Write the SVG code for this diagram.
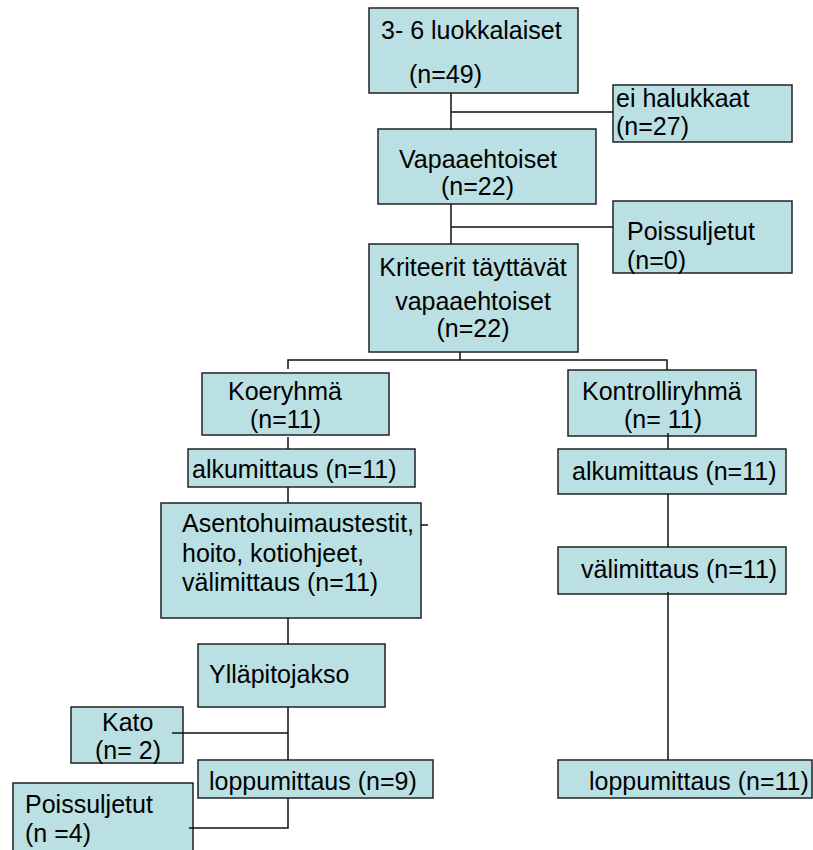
<svg xmlns="http://www.w3.org/2000/svg" width="813" height="850" viewBox="0 0 813 850">
<style>
.box{fill:#BBE0E3;stroke:#222;stroke-width:1.5}
.t{font-family:"Liberation Sans",Arial,sans-serif;font-size:25px;fill:#000}
.c{text-anchor:middle}
.ln{stroke:#111;stroke-width:1.5;fill:none}
</style>
<rect width="813" height="850" fill="#fff"/>
<g id="n1"><rect class="box" x="369" y="8" width="209" height="85"/><text class="t" x="381" y="39">3- 6 luokkalaiset</text><text class="t" x="409" y="83">(n=49)</text></g>
<g id="n2"><rect class="box" x="613" y="85" width="179" height="57"/><text class="t" x="616" y="107">ei halukkaat</text><text class="t" x="616" y="135">(n=27)</text></g>
<g id="n3"><rect class="box" x="378" y="129" width="218" height="75"/><text class="t" x="399" y="168">Vapaaehtoiset</text><text class="t" x="441" y="195">(n=22)</text></g>
<g id="n4"><rect class="box" x="613" y="201" width="179" height="72"/><text class="t" x="627" y="240">Poissuljetut</text><text class="t" x="627" y="269">(n=0)</text></g>
<g id="n5"><rect class="box" x="369" y="244" width="209" height="108"/><text class="t c" x="473" y="276">Kriteerit täyttävät</text><text class="t c" x="473" y="310">vapaaehtoiset</text><text class="t c" x="473" y="337">(n=22)</text></g>
<g id="n6"><rect class="box" x="202" y="373" width="187" height="62"/><text class="t" x="228" y="400">Koeryhmä</text><text class="t" x="250" y="428">(n=11)</text></g>
<g id="n7"><rect class="box" x="568" y="370" width="188" height="66"/><text class="t" x="582" y="400">Kontrolliryhmä</text><text class="t" x="624" y="428">(n= 11)</text></g>
<g id="n8"><rect class="box" x="188" y="449" width="227" height="38"/><text class="t" x="192" y="478">alkumittaus (n=11)</text></g>
<g id="n9"><rect class="box" x="558" y="449" width="228" height="45"/><text class="t" x="572" y="480">alkumittaus (n=11)</text></g>
<g id="n10"><rect class="box" x="161" y="503" width="260" height="115"/><text class="t" x="182" y="532">Asentohuimaustestit,</text><text class="t" x="182" y="562">hoito, kotiohjeet,</text><text class="t" x="182" y="591">välimittaus (n=11)</text></g>
<g id="n11"><rect class="box" x="558" y="547" width="228" height="47"/><text class="t" x="581" y="578">välimittaus (n=11)</text></g>
<g id="n12"><rect class="box" x="198" y="644" width="187" height="63"/><text class="t" x="209" y="683">Ylläpitojakso</text></g>
<g id="n13"><rect class="box" x="71" y="707" width="112" height="56"/><text class="t" x="102" y="731">Kato</text><text class="t" x="95" y="759">(n= 2)</text></g>
<g id="n14"><rect class="box" x="198" y="760" width="235" height="38"/><text class="t" x="209" y="790">loppumittaus (n=9)</text></g>
<g id="n15"><rect class="box" x="558" y="760" width="254" height="38"/><text class="t" x="589" y="790">loppumittaus (n=11)</text></g>
<g id="n16"><rect class="box" x="13" y="783" width="180" height="80"/><text class="t" x="25" y="813">Poissuljetut</text><text class="t" x="25" y="842">(n =4)</text></g>
<g id="connectors">
<path class="ln" d="M451 93V130M451 112H613"/>
<path class="ln" d="M451 204V244M451 227H613"/>
<path class="ln" d="M460 352V360M288 369V360H667V370"/>
<path class="ln" d="M288 437V449M288 487V503"/>
<path class="ln" d="M421 525H428"/>
<path class="ln" d="M288 618V644M288 707V760M172 733H288"/>
<path class="ln" d="M288 798V828H189"/>
<path class="ln" d="M668 433V449M668 494V547M668 592V760"/>
</g>
</svg>
